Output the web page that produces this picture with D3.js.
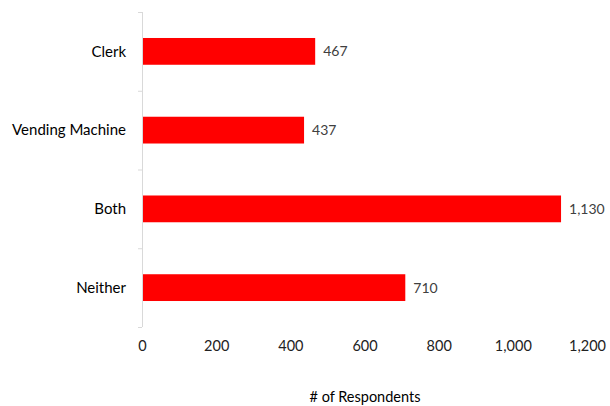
<!DOCTYPE html>
<html><head><meta charset="utf-8">
<script src="https://cdn.jsdelivr.net/npm/d3@7"></script>
<style>body{margin:0;background:#fff}svg{display:block}text{font-family:Lato,"Open Sans",sans-serif}</style>
</head><body><svg id="c" width="610" height="406"></svg>
<script>
const categories = ["Clerk", "Vending Machine", "Both", "Neither"];
const values = [467, 437, 1130, 710];
const xTicks = [0, 200, 400, 600, 800, 1000, 1200];
const xTitle = "# of Respondents";

const svg = d3.select("#c");
const mLeft = 142, mRight = 587, mTop = 12, mBottom = 327;
const x = d3.scaleLinear().domain([0, 1200]).range([mLeft, mRight]);
const y = d3.scaleBand().domain(categories).range([mTop, mBottom]).paddingInner(0.66).paddingOuter(0.33);

// bars
svg.selectAll("rect.bar").data(categories).join("rect")
  .attr("class", "bar")
  .attr("x", x(0)).attr("y", d => y(d))
  .attr("width", (d, i) => x(values[i]) - x(0))
  .attr("height", y.bandwidth())
  .attr("fill", "#ff0000");

// value labels
svg.selectAll("text.val").data(categories).join("text")
  .attr("class", "val")
  .attr("x", (d, i) => x(values[i]) + 8)
  .attr("y", d => y(d) + y.bandwidth() / 2)
  .attr("dy", "0.35em")
  .attr("font-size", 14).attr("fill", "#404040")
  .text((d, i) => d3.format(",")(values[i]));

// y axis (category) with ticks at band boundaries
const yAxisG = svg.append("g");
yAxisG.append("line").attr("x1", mLeft + 0.5).attr("x2", mLeft + 0.5).attr("y1", mTop).attr("y2", mBottom)
  .attr("stroke", "#d9d9d9");
const boundaries = d3.range(categories.length + 1).map(i => mTop + i * (mBottom - mTop) / categories.length);
yAxisG.selectAll("line.tk").data(boundaries).join("line").attr("class", "tk")
  .attr("x1", mLeft - 4).attr("x2", mLeft).attr("y1", d => d + 0.5).attr("y2", d => d + 0.5)
  .attr("stroke", "#d9d9d9");
yAxisG.selectAll("text.cat").data(categories).join("text").attr("class", "cat")
  .attr("x", 126).attr("y", d => y(d) + y.bandwidth() / 2).attr("dy", "0.35em")
  .attr("text-anchor", "end").attr("font-size", 15).attr("fill", "#000")
  .text(d => d);

// x axis labels (no line)
const xAxis = d3.axisBottom(x).tickValues(xTicks).tickSize(0).tickPadding(0).tickFormat(d3.format(","));
const xg = svg.append("g").attr("transform", `translate(0,${mBottom + 14})`).call(xAxis);
xg.select(".domain").remove();
xg.selectAll("text").attr("font-size", 14.5).attr("fill", "#222").attr("font-family", "Lato,'Open Sans',sans-serif");

svg.append("text").attr("x", 365).attr("y", 397).attr("dy", "0.35em").attr("text-anchor", "middle")
  .attr("font-size", 14.5).attr("fill", "#000").text(xTitle);
</script></body></html>
